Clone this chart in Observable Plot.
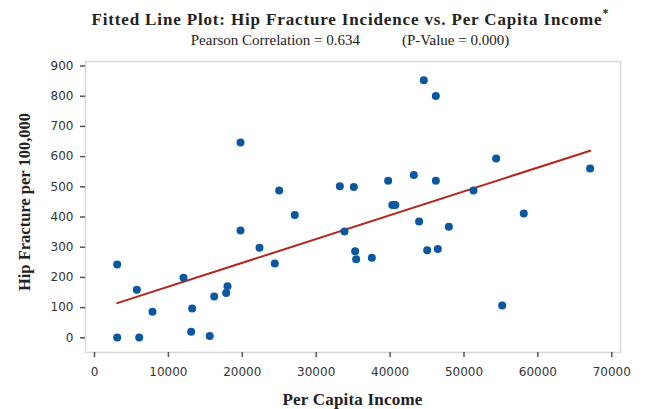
<!DOCTYPE html>
<html>
<head>
<meta charset="utf-8">
<script src="https://cdn.jsdelivr.net/npm/d3@7"></script>
<script src="https://cdn.jsdelivr.net/npm/@observablehq/plot@0.6"></script>
<style>
  html, body { margin: 0; padding: 0; background: #fff; }
  #wrap { position: relative; width: 645px; height: 409px; overflow: hidden; }
  #chart { position: absolute; left: 0; top: 0; }
  .t { position: absolute; font-family: "Liberation Serif", "Times New Roman", serif; color: #222; white-space: nowrap; }
  #title { left: 0; width: 700px; text-align: center; top: 7px; font-size: 17px; font-weight: bold; letter-spacing: 0.85px; }
  #title sup { font-size: 12px; position: relative; top: -1px; letter-spacing: 0; }
  #subtitle { left: 0; width: 700px; text-align: center; top: 32px; font-size: 15px; }
  #subtitle .gap { display: inline-block; width: 42px; }
  #xlabel { left: 85px; width: 535px; text-align: center; top: 390px; font-size: 17px; font-weight: bold; letter-spacing: 0.2px; }
  #ylabel { left: 25px; top: 202px; font-size: 16.5px; font-weight: bold; transform: translate(-50%, -50%) rotate(-90deg); }
</style>
</head>
<body>
<div id="wrap">
  <div id="chart"></div>
  <div class="t" id="title">Fitted Line Plot: Hip Fracture Incidence vs. Per Capita Income<sup>*</sup></div>
  <div class="t" id="subtitle">Pearson Correlation = 0.634<span class="gap"></span>(P-Value = 0.000)</div>
  <div class="t" id="xlabel">Per Capita Income</div>
  <div class="t" id="ylabel">Hip Fracture per 100,000</div>
</div>
<script>
const income = [3070, 3070, 5730, 6050, 7850, 12040, 13220, 13080, 15600, 16200,
  17820, 18000, 19760, 19760, 22330, 24400, 24990, 27100, 33200, 33830,
  35090, 35270, 35410, 37530, 39740, 40300, 40700, 43210, 43930, 44560,
  45020, 46190, 46190, 46460, 47950, 51290, 54350, 55170, 58090, 67070];
const fracture = [243, 1, 159, 1, 86, 199, 97, 20, 6, 137,
  148, 171, 355, 647, 298, 246, 488, 407, 502, 352,
  499, 287, 260, 265, 520, 440, 440, 539, 385, 853,
  290, 801, 520, 294, 368, 488, 594, 107, 412, 561];
const xTicks = [0, 10000, 20000, 30000, 40000, 50000, 60000, 70000];
const yTicks = [0, 100, 200, 300, 400, 500, 600, 700, 800, 900];

const data = income.map((x, i) => ({x, y: fracture[i]}));

const chart = Plot.plot({
  width: 645,
  height: 409,
  marginLeft: 85,
  marginRight: 25,
  marginTop: 61,
  marginBottom: 57,
  style: {background: "transparent", fontFamily: "DejaVu Sans, sans-serif", fontSize: "12px", color: "#333"},
  x: {domain: [-1218, 71180]},
  y: {domain: [-48.7, 915]},
  marks: [
    Plot.frame({stroke: "#d8d8d8", strokeWidth: 1.5}),
    Plot.axisX({ticks: xTicks, tickFormat: d => String(d), tickSize: 5, tickPadding: 10, label: null, line: true, stroke: "#555", strokeWidth: 1.5, fill: "#333"}),
    Plot.axisY({ticks: yTicks, tickFormat: d => String(d), tickSize: 5, tickPadding: 7, label: null, line: true, stroke: "#555", strokeWidth: 1.5, fill: "#333"}),
    Plot.linearRegressionY(data, {x: "x", y: "y", stroke: "#b3261e", strokeWidth: 2, ci: 0}),
    Plot.dot(data, {x: "x", y: "y", r: 4, fill: "#0b57a0", stroke: "none"})
  ]
});
document.getElementById("chart").appendChild(chart);
</script>
</body>
</html>
